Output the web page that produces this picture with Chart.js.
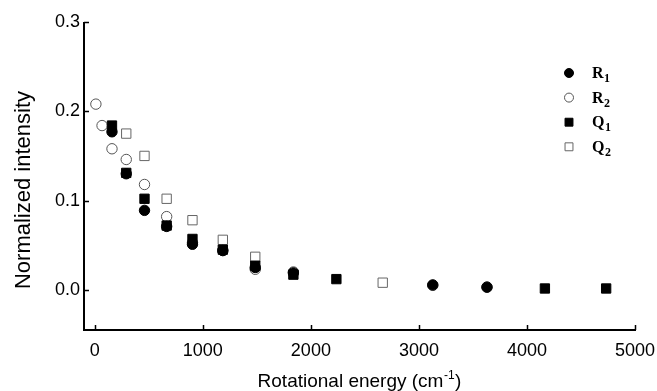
<!DOCTYPE html>
<html>
<head>
<meta charset="utf-8">
<script src="https://cdn.jsdelivr.net/npm/chart.js@4"></script>
<style>
html,body{margin:0;padding:0;background:#fff;}
#wrap{width:657px;height:391px;}
</style>
</head>
<body>
<div id="wrap"><canvas id="c" width="657" height="391"></canvas></div>
<script>
// ---- data ----
const seriesNames = ["R", "R", "Q", "Q"];
const seriesSubs = ["1", "2", "1", "2"];
const r1Energy = [159, 291, 460, 665, 904, 1185, 1485, 1838, 3128, 3630];
const r1Value  = [0.177, 0.130, 0.089, 0.071, 0.051, 0.044, 0.025, 0.019, 0.0055, 0.003];
const r2Energy = [10, 67, 159, 291, 460, 665, 904, 1185, 1485, 1838, 3128, 3630];
const r2Value  = [0.208, 0.184, 0.158, 0.146, 0.118, 0.082, 0.053, 0.044, 0.023, 0.020, 0.005, 0.003];
const q1Energy = [159, 291, 460, 665, 904, 1185, 1485, 1838, 2236, 4166, 4733];
const q1Value  = [0.184, 0.131, 0.102, 0.072, 0.057, 0.045, 0.027, 0.017, 0.012, 0.0015, 0.0015];
const q2Energy = [291, 460, 665, 904, 1185, 1485, 2665];
const q2Value  = [0.175, 0.150, 0.102, 0.078, 0.056, 0.037, 0.008];
const xTicks = [0, 1000, 2000, 3000, 4000, 5000];
const yTicks = [0.0, 0.1, 0.2, 0.3];
const xTitle = "Rotational energy (cm";
const xTitleSup = "-1";
const yTitle = "Normalized intensity";

function pts(xs, ys){ return xs.map((x,i)=>({x:x, y:ys[i]})); }

const styles = [
  {pointStyle:'circle', backgroundColor:'#000', borderColor:'#000', borderWidth:1, pointRadius:5.2, legendR:4.5, order:1},
  {pointStyle:'circle', backgroundColor:'#fff', borderColor:'#555', borderWidth:1, pointRadius:5.2, legendR:4.5, order:3},
  {pointStyle:'rect', backgroundColor:'#000', borderColor:'#000', borderWidth:1, pointRadius:6.6, legendR:5.6, order:2},
  {pointStyle:'rect', backgroundColor:'#fff', borderColor:'#666', borderWidth:1, pointRadius:6.6, legendR:5.6, order:4}
];
const dataSets = [pts(r1Energy,r1Value), pts(r2Energy,r2Value), pts(q1Energy,q1Value), pts(q2Energy,q2Value)];

const datasets = dataSets.map((d,i)=>({
  label: seriesNames[i]+seriesSubs[i],
  data: d,
  showLine:false,
  pointStyle: styles[i].pointStyle,
  pointRadius: styles[i].pointRadius,
  pointHoverRadius: styles[i].pointRadius,
  pointBackgroundColor: styles[i].backgroundColor,
  pointBorderColor: styles[i].borderColor,
  pointBorderWidth: styles[i].borderWidth,
  order: styles[i].order
}));

const FONT = "'Liberation Sans', Arial, sans-serif";

const decor = {
  id:'decor',
  afterDraw(chart){
    const ctx = chart.ctx, a = chart.chartArea;
    const xs = chart.scales.x, ys = chart.scales.y;
    ctx.save();
    ctx.strokeStyle = '#000';
    ctx.lineWidth = 2;
    ctx.beginPath();
    ctx.moveTo(a.left, a.top);
    ctx.lineTo(a.left, a.bottom);
    ctx.lineTo(a.right+1, a.bottom);
    ctx.stroke();
    ctx.lineWidth = 1.5;
    ctx.beginPath();
    yTicks.forEach(v=>{ const p = Math.round(ys.getPixelForValue(v))+0.5; ctx.moveTo(a.left, p); ctx.lineTo(a.left+5, p); });
    xTicks.forEach(v=>{ const p = Math.round(xs.getPixelForValue(v))+0.5; ctx.moveTo(p, a.bottom); ctx.lineTo(p, a.bottom-5); });
    ctx.stroke();

    // x title with superscript
    ctx.fillStyle = '#000';
    ctx.textBaseline = 'alphabetic';
    ctx.font = "19px " + FONT;
    const w1 = ctx.measureText(xTitle).width;
    ctx.font = "12px " + FONT;
    const w2 = ctx.measureText(xTitleSup).width;
    ctx.font = "19px " + FONT;
    const w3 = ctx.measureText(")").width;
    const total = w1+w2+w3+1;
    let x0 = (a.left+a.right)/2 - total/2;
    const by = 387;
    ctx.textAlign = 'left';
    ctx.fillText(xTitle, x0, by);
    ctx.font = "12px " + FONT;
    ctx.fillText(xTitleSup, x0+w1+0.5, by-8);
    ctx.font = "19px " + FONT;
    ctx.fillText(")", x0+w1+w2+1, by);

    // y title
    ctx.save();
    ctx.translate(30, 190);
    ctx.rotate(-Math.PI/2);
    ctx.textAlign = 'center';
    ctx.font = "22px " + FONT;
    ctx.fillText(yTitle, 0, 0);
    ctx.restore();

    // legend
    const lx = 569, ly0 = 73, dy = 24.6, tx = 592;
    for (let i=0;i<4;i++){
      const y = ly0 + i*dy;
      const s = styles[i];
      ctx.fillStyle = s.backgroundColor;
      ctx.strokeStyle = s.borderColor;
      ctx.lineWidth = 1;
      Chart.helpers.drawPoint(ctx, {pointStyle:s.pointStyle, radius:s.legendR, rotation:0, borderWidth:1}, lx, y);
      ctx.fillStyle = '#000';
      ctx.textAlign = 'left';
      ctx.textBaseline = 'alphabetic';
      ctx.font = "bold 16px 'Liberation Serif', 'Times New Roman', serif";
      ctx.fillText(seriesNames[i], tx, y+5);
      const wn = ctx.measureText(seriesNames[i]).width;
      ctx.font = "bold 12px 'Liberation Serif', 'Times New Roman', serif";
      ctx.fillText(seriesSubs[i], tx+wn+0.5, y+9);
    }
    ctx.restore();
  }
};

new Chart(document.getElementById('c'), {
  type:'scatter',
  data:{datasets},
  options:{
    responsive:false,
    animation:false,
    devicePixelRatio:1,
    layout:{padding:{top:22, right:22, left:0, bottom:0}},
    plugins:{legend:{display:false}, tooltip:{enabled:false}},
    scales:{
      x:{
        type:'linear', min:-100, max:5000,
        grid:{display:false, drawTicks:false},
        border:{display:false},
        afterBuildTicks(s){ s.ticks = xTicks.map(v=>({value:v})); },
        afterFit(s){ s.height = 61; s.paddingLeft = 0; s.paddingRight = 0; },
        ticks:{color:'#000', font:{family:FONT, size:18}, padding:10, maxRotation:0, autoSkip:false, callback:(v)=>String(v)}
      },
      y:{
        type:'linear', min:-0.045, max:0.3,
        grid:{display:false, drawTicks:false},
        border:{display:false},
        afterBuildTicks(s){ s.ticks = yTicks.map(v=>({value:v})); },
        afterFit(s){ s.width = 84; s.paddingTop = 0; s.paddingBottom = 0; },
        ticks:{color:'#000', font:{family:FONT, size:18}, padding:4, autoSkip:false, callback:(v)=>Number(v).toFixed(1)}
      }
    }
  },
  plugins:[decor]
});
</script>
</body>
</html>
